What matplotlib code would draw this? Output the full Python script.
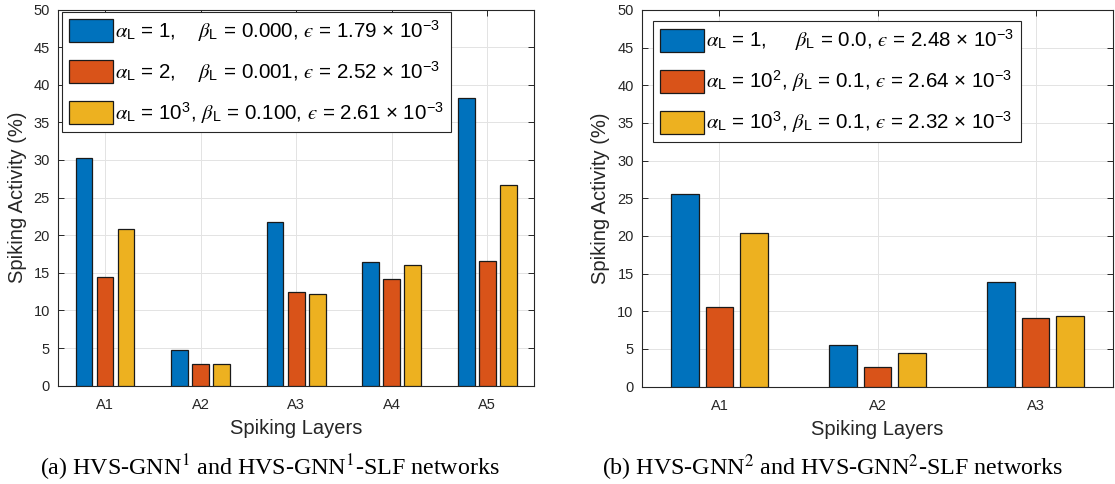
import matplotlib.pyplot as plt
import numpy as np

plt.rcParams['font.family'] = ['Liberation Sans', 'DejaVu Sans']
plt.rcParams['mathtext.fontset'] = 'stix'

# data
layers_a = ['A1', 'A2', 'A3', 'A4', 'A5']
a_s1 = [30.2, 4.7, 21.7, 16.4, 38.3]
a_s2 = [14.5, 2.9, 12.5, 14.2, 16.6]
a_s3 = [20.8, 2.9, 12.2, 16.1, 26.7]
labels_a = [r'$\alpha_\mathregular{L}$ = 1,    $\beta_\mathregular{L}$ = 0.000, $ϵ$ = 1.79 × 10$^\mathregular{-3}$',
            r'$\alpha_\mathregular{L}$ = 2,    $\beta_\mathregular{L}$ = 0.001, $ϵ$ = 2.52 × 10$^\mathregular{-3}$',
            r'$\alpha_\mathregular{L}$ = 10$^\mathregular{3}$, $\beta_\mathregular{L}$ = 0.100, $ϵ$ = 2.61 × 10$^\mathregular{-3}$']

layers_b = ['A1', 'A2', 'A3']
b_s1 = [25.5, 5.5, 13.9]
b_s2 = [10.5, 2.6, 9.1]
b_s3 = [20.4, 4.5, 9.4]
labels_b = [r'$\alpha_\mathregular{L}$ = 1,     $\beta_\mathregular{L}$ = 0.0, $ϵ$ = 2.48 × 10$^\mathregular{-3}$',
            r'$\alpha_\mathregular{L}$ = 10$^\mathregular{2}$, $\beta_\mathregular{L}$ = 0.1, $ϵ$ = 2.64 × 10$^\mathregular{-3}$',
            r'$\alpha_\mathregular{L}$ = 10$^\mathregular{3}$, $\beta_\mathregular{L}$ = 0.1, $ϵ$ = 2.32 × 10$^\mathregular{-3}$']

colors = ['#0072BD', '#D95319', '#EDB120']
axcol = '#262626'

fig = plt.figure(figsize=(11.15, 4.84), dpi=100)
W, H = 1115, 484


def panel(rect, layers, series, labels, leg_anchor):
    ax = fig.add_axes(rect)
    x = np.arange(1, len(layers) + 1)
    for i, vals in enumerate(series):
        ax.bar(x + (i - 1) * 0.22, vals, width=0.175, color=colors[i],
               edgecolor='#1a1a1a', linewidth=0.9, label=labels[i], zorder=3)
    ax.set_xlim(0.51, len(layers) + 0.49)
    ax.set_ylim(0, 50)
    ax.set_yticks(np.arange(0, 51, 5))
    ax.set_xticks(x)
    ax.set_xticklabels(layers)
    ax.grid(True, color='#e3e3e3', linewidth=0.7, zorder=0)
    ax.set_axisbelow(True)
    ax.tick_params(direction='in', top=True, right=True, length=4, width=0.7,
                   colors=axcol, labelsize=10.5)
    ax.tick_params(axis='x', pad=9)
    ax.tick_params(axis='y', pad=6)
    for s in ax.spines.values():
        s.set_color(axcol)
        s.set_linewidth(0.8)
    ax.set_xlabel('Spiking Layers', fontsize=14.5, color=axcol, labelpad=5)
    ax.set_ylabel('Spiking Activity (%)', fontsize=14.5, color=axcol, labelpad=5)
    leg = ax.legend(loc='upper left', bbox_to_anchor=leg_anchor, fontsize=14.8,
                    handlelength=2.15, handleheight=1.35, handletextpad=0.1,
                    labelspacing=0.75, borderpad=0.33, borderaxespad=0,
                    fancybox=False, framealpha=1, edgecolor=axcol)
    leg.get_frame().set_linewidth(0.8)
    return ax


# pixel-based axes rectangles
l1, r1, t1, b1 = 58.3, 534, 9.5, 385.7
panel([l1 / W, 1 - b1 / H, (r1 - l1) / W, (b1 - t1) / H], layers_a,
      [a_s1, a_s2, a_s3], labels_a, (0.008, 0.994))

l2, r2, t2, b2 = 642, 1113, 10, 386.5
panel([l2 / W, 1 - b2 / H, (r2 - l2) / W, (b2 - t2) / H], layers_b,
      [b_s1, b_s2, b_s3], labels_b, (0.023, 0.97))

fig.text(270 / W, 16 / H, r'(a) HVS-GNN$^1$ and HVS-GNN$^1$-SLF networks',
         family='Liberation Serif', fontsize=17.3, ha='center', va='center')
fig.text(832 / W, 16 / H, r'(b) HVS-GNN$^2$ and HVS-GNN$^2$-SLF networks',
         family='Liberation Serif', fontsize=17.3, ha='center', va='center')

fig.savefig('out.png', dpi=100)
